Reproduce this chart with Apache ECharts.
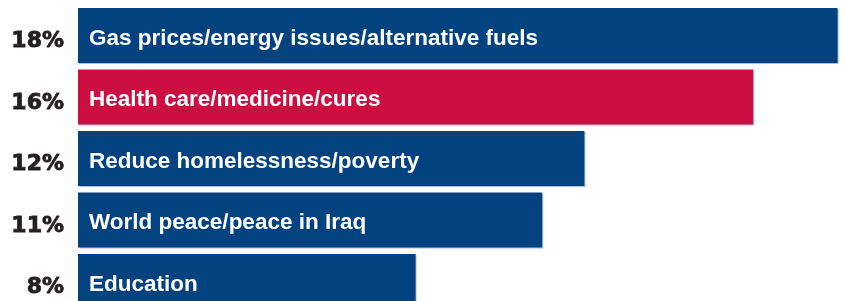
<!DOCTYPE html>
<html>
<head>
<meta charset="utf-8">
<style>html,body{margin:0;padding:0;background:#fff;}#c{width:845px;height:301px;}</style>
<script src="https://cdn.jsdelivr.net/npm/echarts@6/dist/echarts.min.js"></script>
</head>
<body>
<div id="c"></div>
<script>
const categories = ["Gas prices/energy issues/alternative fuels", "Health care/medicine/cures", "Reduce homelessness/poverty", "World peace/peace in Iraq", "Education"];
const values = [18, 16, 12, 11, 8];
const tickLabels = ["18%", "16%", "12%", "11%", "8%"];
const highlighted = [false, true, false, false, false];

const BLUE = "#02437f", RED = "#cc0f40";
const chart = echarts.init(document.getElementById('c'), null, {renderer: 'canvas'});
chart.setOption({
  animation: false,
  grid: {left: 78, top: 4.75, width: 844, height: 307.5, containLabel: false, outerBoundsMode: 'none'},
  xAxis: {type: 'value', min: 0, max: 20, show: false},
  yAxis: {
    type: 'category', inverse: true, data: categories,
    axisLine: {show: false}, axisTick: {show: false}, splitLine: {show: false},
    axisLabel: {
      margin: 14,
      formatter: (v, i) => '{p|' + tickLabels[i] + '}',
      rich: {
        p: {
          fontFamily: 'DejaVu Sans', fontWeight: 'bold', fontSize: 22, color: '#231f20',
          textBorderColor: '#231f20', textBorderWidth: 0.8,
          padding: [12, 0, 0, 0]
        }
      }
    }
  },
  series: [{
    type: 'bar', barWidth: 55,
    data: values.map((v, i) => ({value: v, itemStyle: {color: highlighted[i] ? RED : BLUE}})),
    itemStyle: {shadowColor: 'rgba(120,150,200,0.6)', shadowOffsetX: 1, shadowOffsetY: 1, shadowBlur: 0},
    label: {
      show: true, position: 'insideLeft', distance: 11,
      formatter: p => categories[p.dataIndex],
      fontFamily: 'Liberation Sans', fontWeight: 'bold', fontSize: 22.5, color: '#fff',
      offset: [0, 3]
    }
  }]
});
</script>
</body>
</html>
